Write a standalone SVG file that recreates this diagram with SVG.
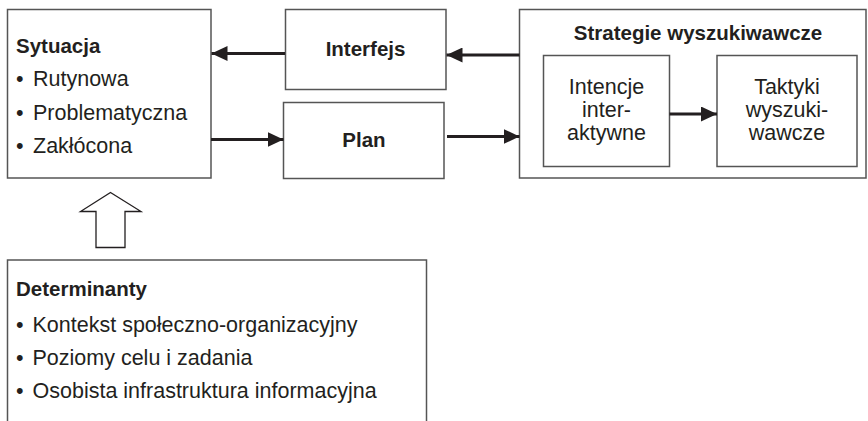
<svg xmlns="http://www.w3.org/2000/svg" width="868" height="421" viewBox="0 0 868 421">
<style>
  .box { fill: #ffffff; stroke: #555555; stroke-width: 1.5; }
  .t { font-family: "Liberation Sans", Arial, sans-serif; font-size: 21.5px; fill: #231f20; }
  .b { font-family: "Liberation Sans", Arial, sans-serif; font-size: 20.5px; font-weight: bold; fill: #231f20; }
  .c { text-anchor: middle; }
  .conn { stroke: #231f20; stroke-width: 3; fill: none; marker-end: url(#ah); }
</style>
<defs>
  <marker id="ah" markerUnits="userSpaceOnUse" markerWidth="16" markerHeight="15" refX="16" refY="7.5" orient="auto">
    <path d="M0,0 L16,7.5 L0,15 z" fill="#231f20"/>
  </marker>
</defs>
<rect width="868" height="421" fill="#ffffff"/>

<g id="sytuacja">
  <rect class="box" x="7.5" y="9.5" width="203.5" height="168.5"/>
  <text class="b" x="16" y="52.5">Sytuacja</text>
  <text class="t" x="16" y="85.5">•<tspan x="33">Rutynowa</tspan></text>
  <text class="t" x="16" y="119.5">•<tspan x="33">Problematyczna</tspan></text>
  <text class="t" x="16" y="153">•<tspan x="33">Zakłócona</tspan></text>
</g>

<g id="interfejs">
  <rect class="box" x="285.5" y="9.5" width="160.5" height="80"/>
  <text class="b c" x="365.5" y="56">Interfejs</text>
</g>

<g id="plan">
  <rect class="box" x="283.5" y="102.5" width="160.5" height="76"/>
  <text class="b c" x="364" y="147">Plan</text>
</g>

<g id="strategie">
  <rect class="box" x="519.5" y="9.5" width="346.5" height="168.5"/>
  <text class="b c" x="698" y="39.5">Strategie wyszukiwawcze</text>
</g>

<g id="intencje">
  <rect class="box" x="543.5" y="55.5" width="126" height="111"/>
  <text class="t c" x="606.5" y="93.5">Intencje</text>
  <text class="t c" x="606.5" y="116.5">inter-</text>
  <text class="t c" x="606.5" y="140">aktywne</text>
</g>

<g id="taktyki">
  <rect class="box" x="717" y="55.5" width="140" height="111"/>
  <text class="t c" x="787" y="93.5">Taktyki</text>
  <text class="t c" x="787" y="116.5">wyszuki-</text>
  <text class="t c" x="787" y="140">wawcze</text>
</g>

<g id="determinanty">
  <rect class="box" x="7.5" y="260" width="419" height="175"/>
  <text class="b" x="16" y="296">Determinanty</text>
  <text class="t" x="16" y="331.5">•<tspan x="32.5">Kontekst społeczno-organizacyjny</tspan></text>
  <text class="t" x="16" y="364.5">•<tspan x="32.5">Poziomy celu i zadania</tspan></text>
  <text class="t" x="16" y="397.5">•<tspan x="32.5">Osobista infrastruktura informacyjna</tspan></text>
</g>

<g id="connectors">
  <line class="conn" x1="285" y1="53.5" x2="211.5" y2="53.5"/>
  <line class="conn" x1="519.5" y1="55" x2="446.5" y2="55"/>
  <line class="conn" x1="211" y1="139.5" x2="283.5" y2="139.5"/>
  <line class="conn" x1="447" y1="136.5" x2="519.5" y2="136.5"/>
  <line class="conn" x1="669.5" y1="114" x2="717" y2="114"/>
  <polygon points="110.5,192.5 141,211.5 125,211.5 125,247.5 96,247.5 96,211.5 80.5,211.5" fill="#ffffff" stroke="#231f20" stroke-width="1.3" stroke-linejoin="miter"/>
</g>
</svg>
